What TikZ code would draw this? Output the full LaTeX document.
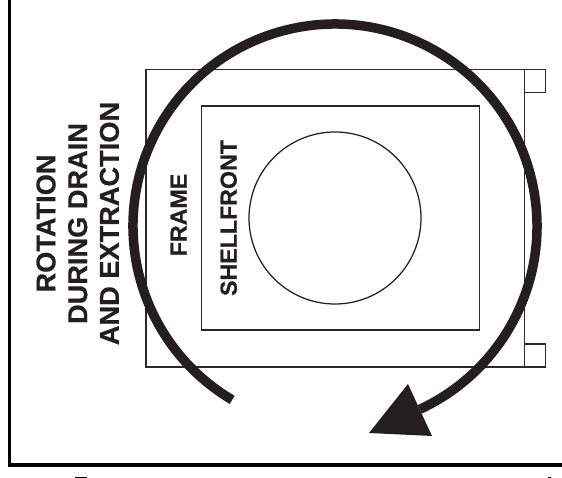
\documentclass[tikz,border=0pt]{standalone}
\usepackage{fontspec}
\setmainfont[BoldFeatures={FakeBold=0.6}]{Liberation Sans}
\definecolor{ink}{HTML}{231F20}
\definecolor{thin}{HTML}{2A2A2A}
\tikzset{
  thinbox/.style={draw=thin,line width=1.25pt},
  outerline/.style={draw=black,line width=3.5pt},
  biglabel/.style={rotate=90,text=ink,inner sep=0pt,align=center,font=\fontsize{27.2}{31.7}\selectfont\bfseries},
  smalllabel/.style={rotate=90,text=ink,inner sep=0pt,anchor=base,font=\fontsize{23.2}{27}\selectfont\bfseries},
  rotarrow/.style={draw=ink,line width=9.5pt}
}
\begin{document}
\begin{tikzpicture}[x=1pt,y=1pt]
\useasboundingbox (0,0) rectangle (562,478);
% outer border
\draw[outerline] (9.5,478) -- (9.5,13) -- (562,13);
% frame and lugs
\draw[thinbox] (146,111) rectangle (524.3,408.7);
\draw[thinbox] (524.3,408.7) rectangle (545.5,385.7);
\draw[thinbox] (524.3,134) rectangle (545.5,111);
% shell front and opening
\draw[thinbox] (201.7,148) rectangle (479.3,372);
\draw[draw=ink,line width=1.25pt] (335,260) circle[radius=86pt];
% rotation arrow
\draw[rotarrow] (335,252) ++(239.4:202pt) arc[start angle=239.4,end angle=-65.2,radius=202pt];
\fill[ink] (408,94) -- (369,45) -- (432,42) -- cycle;
% labels
\node[biglabel] (rotation) at (77.7,254.5) {ROTATION\\DURING DRAIN\\AND EXTRACTION};
\node[smalllabel] (framelabel) at (186.7,263) {FRAME};
\node[smalllabel] (shelllabel) at (236.7,260) {SHELLFRONT};
% cropped marks at the lower edge
\fill[thin] (75,0.4) rectangle (87,1.2);
\fill[thin] (548,0.4) rectangle (550.5,1.2);
\end{tikzpicture}
\end{document}
